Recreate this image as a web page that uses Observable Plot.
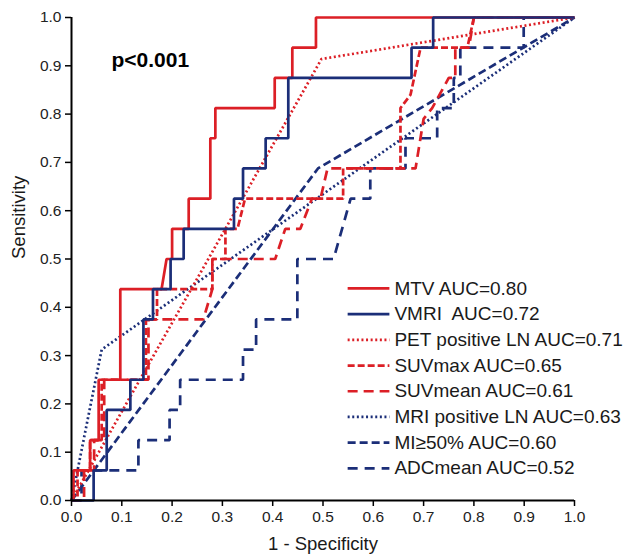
<!DOCTYPE html>
<html>
<head>
<meta charset="utf-8">
<script src="https://cdn.jsdelivr.net/npm/d3@7"></script>
<script src="https://cdn.jsdelivr.net/npm/@observablehq/plot@0.6"></script>
<style>
  html, body { margin: 0; padding: 0; background: #fff; }
  #chart svg { display: block; }
</style>
</head>
<body>
<div id="chart"></div>
<script>
// ---- Data ----
const TICKS = [0, 0.1, 0.2, 0.3, 0.4, 0.5, 0.6, 0.7, 0.8, 0.9, 1.0];

const MTV_X = [0,0.004,0.004,0.037,0.037,0.054,0.054,0.097,0.097,0.179,0.189,0.2,0.2,0.233,0.233,0.276,0.276,0.286,0.286,0.404,0.404,0.439,0.439,0.486,0.486,1];
const MTV_Y = [0,0,0.0625,0.0625,0.125,0.125,0.25,0.25,0.4375,0.4375,0.5,0.5,0.5625,0.5625,0.625,0.625,0.75,0.75,0.8125,0.8125,0.875,0.875,0.9375,0.9375,1,1];

const VMRI_X = [0,0.044,0.044,0.07,0.07,0.117,0.117,0.143,0.143,0.162,0.162,0.197,0.197,0.223,0.223,0.323,0.323,0.341,0.341,0.386,0.386,0.431,0.431,0.676,0.676,0.719,0.719,1];
const VMRI_Y = [0,0,0.0625,0.0625,0.1875,0.1875,0.25,0.25,0.375,0.375,0.4375,0.4375,0.5,0.5,0.5625,0.5625,0.625,0.625,0.6875,0.6875,0.75,0.75,0.875,0.875,0.9375,0.9375,1,1];

const PET_X = [0, 0.497, 1];
const PET_Y = [0, 0.914, 1];

const SUVMAX_X = [0,0.012,0.012,0.037,0.037,0.06,0.06,0.148,0.148,0.17,0.17,0.28,0.28,0.306,0.306,0.33,0.345,0.54,0.54,0.654,0.654,0.674,0.694,0.787,0.8,1];
const SUVMAX_Y = [0,0,0.0625,0.0625,0.125,0.125,0.25,0.25,0.375,0.375,0.4375,0.4375,0.5,0.5,0.5625,0.5625,0.625,0.625,0.6875,0.6875,0.8125,0.84,0.9375,0.9375,1,1];

const SUVMEAN_X = [0,0.025,0.025,0.045,0.045,0.065,0.065,0.153,0.153,0.262,0.28,0.28,0.405,0.425,0.455,0.478,0.495,0.509,0.684,0.70,0.717,0.75,0.763,0.763,0.79,0.8,1];
const SUVMEAN_Y = [0,0,0.0625,0.0625,0.125,0.125,0.25,0.25,0.375,0.375,0.4375,0.5,0.5,0.5625,0.5625,0.625,0.625,0.6875,0.6875,0.79,0.8125,0.875,0.875,0.9375,0.9375,1,1];

const MRI_X = [0, 0.06, 1];
const MRI_Y = [0, 0.3125, 1];

const MI_X = [0, 0.49, 1];
const MI_Y = [0, 0.6875, 1];

const ADC_X = [0,0.02,0.02,0.133,0.133,0.195,0.195,0.216,0.216,0.341,0.341,0.367,0.367,0.449,0.449,0.521,0.555,0.594,0.594,0.664,0.664,0.727,0.727,0.76,0.76,0.773,0.773,0.899,0.899,1];
const ADC_Y = [0,0,0.0625,0.0625,0.125,0.125,0.1875,0.1875,0.25,0.25,0.3125,0.3125,0.375,0.375,0.5,0.5,0.625,0.625,0.6875,0.6875,0.75,0.75,0.8125,0.8125,0.875,0.875,0.9375,0.9375,1,1];

const SERIES_NAMES = ["MTV", "VMRI\u00a0", "PET positive LN", "SUVmax", "SUVmean", "MRI positive LN", "MI\u226550%", "ADCmean"];
const AUC_VALUES = ["0.80", "0.72", "0.71", "0.65", "0.61", "0.63", "0.60", "0.52"];
const ANNOTATION = "p<0.001";
const X_LABEL = "1 - Specificity";
const Y_LABEL = "Sensitivity";

// ---- Styles ----
const RED = "#dc1f26";
const NAVY = "#1b2e78";
const STYLES = [
  {stroke: RED,  dash: null},      // MTV
  {stroke: NAVY, dash: null},      // VMRI
  {stroke: RED,  dash: "2,2.6"},   // PET
  {stroke: RED,  dash: "7,3"},     // SUVmax
  {stroke: RED,  dash: "10,6"},    // SUVmean
  {stroke: NAVY, dash: "2,2.6"},   // MRI
  {stroke: NAVY, dash: "8,4"},     // MI
  {stroke: NAVY, dash: "10,7"}     // ADCmean
];
const XS = [MTV_X, VMRI_X, PET_X, SUVMAX_X, SUVMEAN_X, MRI_X, MI_X, ADC_X];
const YS = [MTV_Y, VMRI_Y, PET_Y, SUVMAX_Y, SUVMEAN_Y, MRI_Y, MI_Y, ADC_Y];
const DRAW_ORDER = [7, 6, 5, 4, 3, 2, 0, 1];

const FONT = "'Liberation Sans', Arial, Helvetica, sans-serif";
const LINE_W = 2.7;

// legend layout (in data units of the plot's scales)
const LEG_X1 = 0.549, LEG_X2 = 0.632, LEG_TX = 0.642;
const LEG_Y0 = 0.439, LEG_STEP = 0.0532;

const marks = [];

// curves
for (const i of DRAW_ORDER) {
  const rows = XS[i].map((x, k) => ({x, y: YS[i][k]}));
  marks.push(Plot.line(rows, {
    x: "x", y: "y",
    stroke: STYLES[i].stroke,
    strokeWidth: LINE_W,
    strokeDasharray: STYLES[i].dash,
    strokeLinejoin: "miter",
    strokeLinecap: "butt"
  }));
}

// axes lines
marks.push(Plot.ruleX([0], {stroke: "#000", strokeWidth: 2}));
marks.push(Plot.ruleY([0], {stroke: "#000", strokeWidth: 2}));

marks.push(Plot.axisX({ticks: TICKS, tickFormat: d3.format(".1f"), tickSize: 6, tickPadding: 4, label: null, fontSize: 15.5, fill: "#222", strokeWidth: 1.5}));
marks.push(Plot.axisY({ticks: TICKS, tickFormat: d3.format(".1f"), tickSize: 6, tickPadding: 4, label: null, fontSize: 15.5, fill: "#222", strokeWidth: 1.5}));

// legend
SERIES_NAMES.forEach((name, i) => {
  const yv = LEG_Y0 - i * LEG_STEP;
  marks.push(Plot.link([{x1: LEG_X1, x2: LEG_X2, y: yv}], {
    x1: "x1", x2: "x2", y1: "y", y2: "y",
    stroke: STYLES[i].stroke, strokeWidth: LINE_W, strokeDasharray: STYLES[i].dash
  }));
  marks.push(Plot.text([{x: LEG_TX, y: yv, t: `${name} AUC=${AUC_VALUES[i]}`}], {
    x: "x", y: "y", text: "t", textAnchor: "start", fontSize: 19, fill: "#1a1a1a"
  }));
});

// annotation and axis titles
marks.push(Plot.text([ANNOTATION], {text: d => d, frameAnchor: "top-left", dx: 40, dy: 49, lineAnchor: "bottom", textAnchor: "start", fontSize: 21, fontWeight: "bold", fill: "#000"}));
marks.push(Plot.text([X_LABEL], {text: d => d, frameAnchor: "bottom", dy: 49, lineAnchor: "bottom", fontSize: 18.5, fill: "#1a1a1a"}));
marks.push(Plot.text([Y_LABEL], {text: d => d, frameAnchor: "left", dx: -52, rotate: -90, fontSize: 18.5, fill: "#1a1a1a"}));

const chart = Plot.plot({
  width: 629,
  height: 557,
  marginLeft: 71,
  marginRight: 55,
  marginTop: 17,
  marginBottom: 57,
  x: {domain: [0, 1]},
  y: {domain: [0, 1]},
  style: {fontFamily: FONT, fontSize: "15.5px", background: "#fff", color: "#000"},
  marks
});
document.getElementById("chart").appendChild(chart);
</script>
</body>
</html>
